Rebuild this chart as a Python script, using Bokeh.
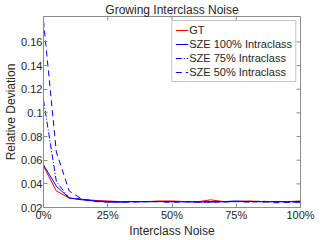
from bokeh.plotting import figure
from bokeh.models import Range1d, FixedTicker, Legend, LegendItem
from bokeh.embed import file_html
from bokeh.resources import INLINE

noise = [0, 5, 10, 15, 20, 25, 30, 35, 40, 45, 50, 55, 60, 65, 70, 75, 80, 85, 90, 95, 100]
gt = [0.055, 0.034, 0.028, 0.027, 0.026, 0.0255, 0.025, 0.025, 0.025, 0.0255, 0.0255,
      0.025, 0.0248, 0.0265, 0.025, 0.025, 0.0255, 0.025, 0.0248, 0.025, 0.0255]
sze100 = [0.056, 0.038, 0.028, 0.0265, 0.0255, 0.025, 0.0248, 0.025, 0.0248, 0.025, 0.025,
          0.0248, 0.0248, 0.025, 0.025, 0.0255, 0.025, 0.025, 0.025, 0.025, 0.025]
sze75 = [0.111, 0.042, 0.028, 0.027, 0.0255, 0.0245, 0.0245, 0.025, 0.025, 0.025, 0.0245,
         0.025, 0.0245, 0.0245, 0.025, 0.025, 0.025, 0.0245, 0.025, 0.0245, 0.0245]
sze50 = [0.178, 0.067, 0.034, 0.027, 0.025, 0.0245, 0.0245, 0.0245, 0.025, 0.025, 0.0245,
         0.025, 0.0245, 0.0245, 0.0245, 0.025, 0.0245, 0.0255, 0.024, 0.0245, 0.0245]
x_ticks = [0, 25, 50, 75, 100]
x_tick_labels = ["0%", "25%", "50%", "75%", "100%"]
y_ticks = [0.02, 0.04, 0.06, 0.08, 0.10, 0.12, 0.14, 0.16]
y_tick_labels = ["0.02", "0.04", "0.06", "0.08", "0.1", "0.12", "0.14", "0.16"]

FONT = "Liberation Sans"
AX = "#8c8c8c"
TXT = "#262626"
X0, X1 = 0, 100
Y0, Y1 = 0.02, 0.1815
FW, FH = 257, 190  # approx frame size in px, for inward tick length on top/right

p = figure(width=324, height=240, output_backend="svg", toolbar_location=None,
           x_range=Range1d(X0, X1), y_range=Range1d(Y0, Y1),
           title="Growing Interclass Noise",
           min_border_left=43, min_border_right=24, min_border_top=0, min_border_bottom=0)
p.title.align = "center"
p.title.text_font = FONT
p.title.text_font_size = "12px"
p.title.text_font_style = "normal"
p.title.text_color = TXT
p.title.standoff = 0
p.title.offset = 0

p.xgrid.visible = False
p.ygrid.visible = False
p.outline_line_color = AX
p.background_fill_color = "white"
p.border_fill_color = "white"

def style_axis(ax):
    ax.axis_line_color = AX
    ax.major_tick_line_color = AX
    ax.major_tick_in = 4
    ax.major_tick_out = 0
    ax.minor_tick_line_color = None
    ax.major_label_text_font = FONT
    ax.major_label_text_font_size = "11px"
    ax.major_label_text_color = TXT
    ax.major_label_standoff = 1
    ax.axis_label_text_font = FONT
    ax.axis_label_text_font_size = "12px"
    ax.axis_label_text_font_style = "normal"
    ax.axis_label_text_color = TXT
    ax.axis_label_standoff = 0

xa = p.xaxis[0]
ya = p.yaxis[0]
xa.ticker = FixedTicker(ticks=x_ticks)
xa.major_label_overrides = dict(zip(x_ticks, x_tick_labels))
ya.ticker = FixedTicker(ticks=y_ticks)
ya.major_label_overrides = dict(zip(y_ticks, y_tick_labels))
xa.axis_label = "Interclass Noise"
ya.axis_label = "Relative Deviation"
style_axis(xa)
style_axis(ya)

# inward ticks on the top and right edges of the box
tx_len = 4 * (Y1 - Y0) / FH
ty_len = 4 * (X1 - X0) / FW
p.segment(x0=x_ticks, y0=[Y1] * len(x_ticks), x1=x_ticks, y1=[Y1 - tx_len] * len(x_ticks),
          line_color=AX, line_width=1)
p.segment(x0=[X1] * len(y_ticks), y0=y_ticks, x1=[X1 - ty_len] * len(y_ticks), y1=y_ticks,
          line_color=AX, line_width=1)

r_gt = p.line(noise, gt, line_color="#ff0000", line_width=1)
r_100 = p.line(noise, sze100, line_color="#0000ff", line_width=1)
r_75 = p.line(noise, sze75, line_color="#0000ff", line_width=1, line_dash="6 2 1 2")
r_50 = p.line(noise, sze50, line_color="#0000ff", line_width=1, line_dash="6 4")

legend = Legend(items=[
    LegendItem(label="GT", renderers=[r_gt]),
    LegendItem(label="SZE 100% Intraclass", renderers=[r_100]),
    LegendItem(label="SZE 75% Intraclass", renderers=[r_75]),
    LegendItem(label="SZE 50% Intraclass", renderers=[r_50]),
], location="top_right")
legend.label_text_font = FONT
legend.label_text_font_size = "11px"
legend.label_text_color = TXT
legend.label_height = 12
legend.label_standoff = 1
legend.glyph_width = 13
legend.glyph_height = 12
legend.spacing = 2
legend.padding = 3
legend.margin = 4
legend.border_line_color = AX
legend.background_fill_alpha = 1
p.add_layout(legend, "center")

open("out.html", "w").write(file_html(p, INLINE))
